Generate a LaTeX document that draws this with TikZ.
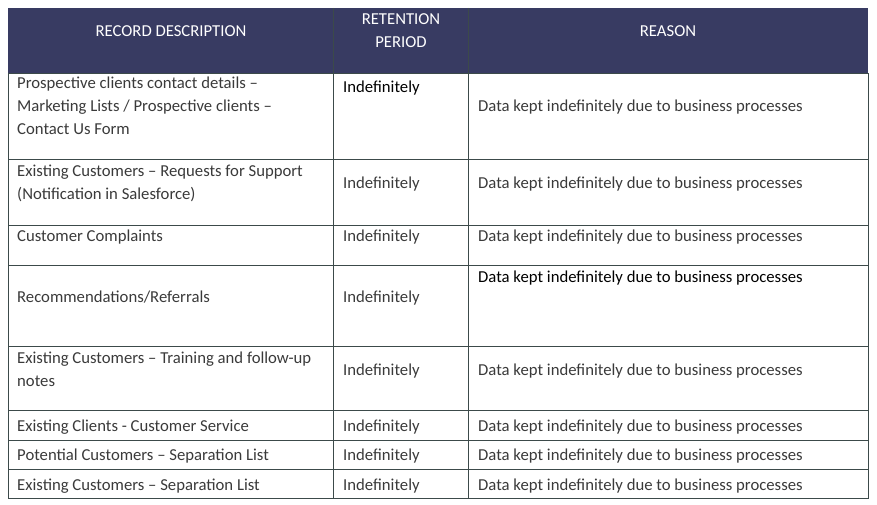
\documentclass[tikz,border=0pt]{standalone}
\usepackage{fontspec}
\setmainfont{Carlito}
\definecolor{hdr}{HTML}{383B62}
\definecolor{txt}{HTML}{3A3A3A}
\definecolor{grid}{HTML}{3C4A4A}
\begin{document}
\begin{tikzpicture}[x=1pt,y=-1pt,
  cell/.style={anchor=base west,inner sep=0pt,text=txt,font=\fontsize{16.7}{19}\selectfont},
  cellb/.style={cell,text=black},
  head/.style={anchor=base,inner sep=0pt,text=white,font=\fontsize{16.7}{19}\selectfont}]
\useasboundingbox (0,0) rectangle (877,505);
\fill[hdr] (8,8) rectangle (868,73);
\draw[grid,line width=0.8pt] (8,73) rectangle (868,498);
\foreach \y in {159,225,265,346,410,440,469} \draw[grid,line width=0.8pt] (8,\y) -- (868,\y);
\foreach \x in {333,468} \draw[grid,line width=0.8pt] (\x,8) -- (\x,498);
\begin{scope}[yshift=-5pt]
\node[head] (h1) at (171,32) {RECORD DESCRIPTION};
\node[head] (h2a) at (401,20) {RETENTION};
\node[head] (h2b) at (401,43) {PERIOD};
\node[head] (h3) at (668,32) {REASON};
% row 1
\node[cell] (a1) at (17,84) {Prospective clients contact details –};
\node[cell] (a1b) at (17,107) {Marketing Lists / Prospective clients –};
\node[cell] (a1c) at (17,130) {Contact Us Form};
\node[cellb] (b1) at (343,88) {Indefinitely};
\node[cell] (c1) at (478,107) {Data kept indefinitely due to business processes};
% row 2
\node[cell] (a2) at (17,172) {Existing Customers – Requests for Support};
\node[cell] (a2b) at (17,194) {(Notification in Salesforce)};
\node[cell] (b2) at (343,184) {Indefinitely};
\node[cell] (c2) at (478,184) {Data kept indefinitely due to business processes};
% row 3
\node[cell] (a3) at (17,236) {Customer Complaints};
\node[cell] (b3) at (343,236) {Indefinitely};
\node[cell] (c3) at (478,236) {Data kept indefinitely due to business processes};
% row 4
\node[cell] (a4) at (17,297) {Recommendations/Referrals};
\node[cell] (b4) at (343,297) {Indefinitely};
\node[cellb] (c4) at (478,277) {Data kept indefinitely due to business processes};
% row 5
\node[cell] (a5) at (17,358) {Existing Customers – Training and follow-up};
\node[cell] (a5b) at (17,381) {notes};
\node[cell] (b5) at (343,370) {Indefinitely};
\node[cell] (c5) at (478,370) {Data kept indefinitely due to business processes};
% row 6
\node[cell] (a6) at (17,426) {Existing Clients - Customer Service};
\node[cell] (b6) at (343,426) {Indefinitely};
\node[cell] (c6) at (478,426) {Data kept indefinitely due to business processes};
% row 7
\node[cell] (a7) at (17,455) {Potential Customers – Separation List};
\node[cell] (b7) at (343,455) {Indefinitely};
\node[cell] (c7) at (478,455) {Data kept indefinitely due to business processes};
% row 8
\node[cell] (a8) at (17,485) {Existing Customers – Separation List};
\node[cell] (b8) at (343,485) {Indefinitely};
\node[cell] (c8) at (478,485) {Data kept indefinitely due to business processes};
\end{scope}
\end{tikzpicture}
\end{document}
